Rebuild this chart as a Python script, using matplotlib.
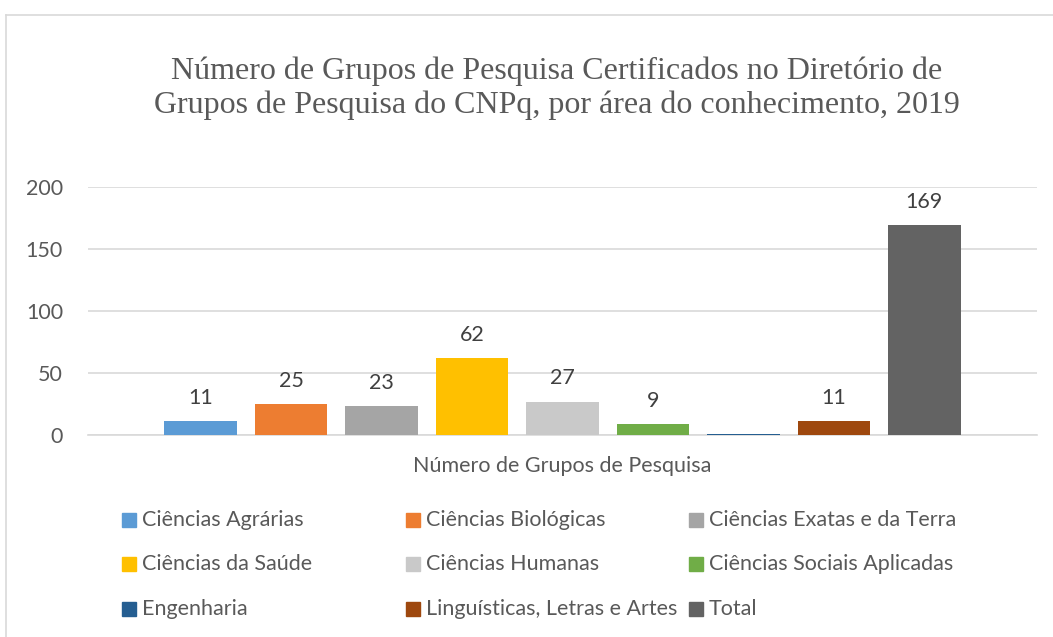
import matplotlib
matplotlib.use("Agg")
import matplotlib.pyplot as plt
from matplotlib.patches import Rectangle
from matplotlib.lines import Line2D

title = "Número de Grupos de Pesquisa Certificados no Diretório de\nGrupos de Pesquisa do CNPq, por área do conhecimento, 2019"
category = "Número de Grupos de Pesquisa"
series = ["Ciências Agrárias", "Ciências Biológicas", "Ciências Exatas e da Terra",
          "Ciências da Saúde", "Ciências Humanas", "Ciências Sociais Aplicadas",
          "Engenharia", "Linguísticas, Letras e Artes", "Total"]
values = [11, 25, 23, 62, 27, 9, 1, 11, 169]
labels = ["11", "25", "23", "62", "27", "9", "", "11", "169"]
colors = ["#5B9BD5", "#ED7D31", "#A5A5A5", "#FFC000", "#C9C9C9", "#70AD47",
          "#255E91", "#9E480E", "#636363"]
yticks = [0, 50, 100, 150, 200]

W, H = 1053, 637
fig = plt.figure(figsize=(W / 100, H / 100), dpi=100)
sans = ["Lato", "DejaVu Sans"]
fs = 15.5

def fx(px):
    return px / W

def fy(py):
    return 1 - py / H

# chart frame (left and top borders visible)
fig.add_artist(Line2D([fx(5.5), fx(5.5)], [0, fy(14.5)], color="#d9d9d9", lw=1.2))
fig.add_artist(Line2D([fx(5.5), 1], [fy(14.5), fy(14.5)], color="#d9d9d9", lw=1.2))

ax = fig.add_axes([fx(88), fy(435), fx(1037) - fx(88), fy(187) - fy(435)])
x = list(range(len(values)))
bars = ax.bar(x, values, width=0.8, color=colors, zorder=3)
ax.set_xlim(-1.245, 9.245)
ax.set_ylim(0, 200)
ax.set_yticks(yticks)
ax.set_yticklabels([str(t) for t in yticks], fontsize=fs, color="#595959", family=sans)
ax.tick_params(axis="y", length=0, pad=18)
ax.set_xticks([])
ax.grid(axis="y", color="#d9d9d9", lw=1.2, zorder=0)
for s in ["top", "right", "left"]:
    ax.spines[s].set_visible(False)
ax.spines["bottom"].set_color("#d9d9d9")
ax.spines["bottom"].set_linewidth(1.2)
ax.spines["bottom"].set_zorder(2)

for b, lab in zip(bars, labels):
    if lab:
        ax.annotate(lab, (b.get_x() + b.get_width() / 2, b.get_height()),
                    xytext=(0, 9.5), textcoords="offset points", ha="center", va="bottom",
                    fontsize=fs, color="#404040", family=sans)

ax.set_xlabel(category, fontsize=fs, color="#595959", family=sans, labelpad=15)

fig.text(fx(557), fy(88.5), title, ha="center", va="center", fontsize=23,
         family=["Liberation Serif", "DejaVu Serif"], color="#595959", linespacing=1.2)

# legend
col_x = [122, 406, 689]
row_y = [520, 564, 609]
sq = 14
for i, (name, c) in enumerate(zip(series, colors)):
    r, cidx = divmod(i, 3)
    x0, y0 = col_x[cidx], row_y[r]
    fig.add_artist(Rectangle((fx(x0), fy(y0 + sq / 2)), fx(sq), fy(0) - fy(sq), color=c,
                             transform=fig.transFigure))
    fig.text(fx(x0 + 20), fy(y0), name, ha="left", va="center", fontsize=fs,
             color="#595959", family=sans)

fig.savefig("out.png", dpi=100)
